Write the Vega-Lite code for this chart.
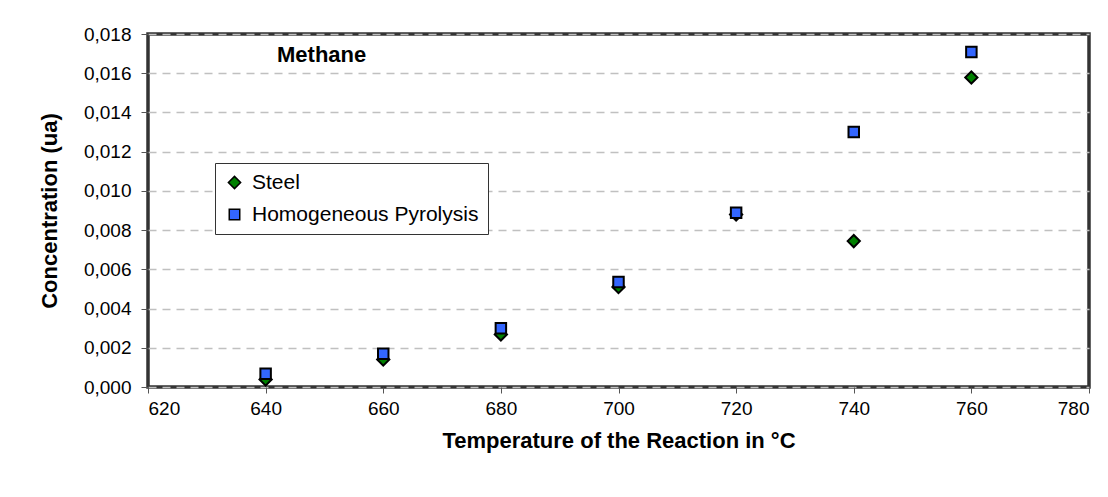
{
  "$schema": "https://vega.github.io/schema/vega-lite/v6.json",
  "width": 941,
  "height": 353,
  "autosize": "none",
  "padding": {"left": 148, "top": 34, "right": 19, "bottom": 110},
  "background": "white",
  "title": {"text": "Methane", "anchor": "start", "frame": "group", "dx": 129, "offset": -42, "fontSize": 22, "fontWeight": "bold", "font": "Liberation Sans", "color": "black"},
  "data": {"values": [
    {"temp": 640, "conc": 0.00038, "series": "Steel"},
    {"temp": 660, "conc": 0.0014, "series": "Steel"},
    {"temp": 680, "conc": 0.00268, "series": "Steel"},
    {"temp": 700, "conc": 0.0051, "series": "Steel"},
    {"temp": 720, "conc": 0.0088, "series": "Steel"},
    {"temp": 740, "conc": 0.00744, "series": "Steel"},
    {"temp": 760, "conc": 0.01578, "series": "Steel"},
    {"temp": 640, "conc": 0.00067, "series": "Homogeneous Pyrolysis"},
    {"temp": 660, "conc": 0.0017, "series": "Homogeneous Pyrolysis"},
    {"temp": 680, "conc": 0.0030, "series": "Homogeneous Pyrolysis"},
    {"temp": 700, "conc": 0.00535, "series": "Homogeneous Pyrolysis"},
    {"temp": 720, "conc": 0.00889, "series": "Homogeneous Pyrolysis"},
    {"temp": 740, "conc": 0.0130, "series": "Homogeneous Pyrolysis"},
    {"temp": 760, "conc": 0.01708, "series": "Homogeneous Pyrolysis"}
  ]},
  "mark": {"type": "point", "filled": true, "stroke": "black", "strokeWidth": 2, "opacity": 1},
  "encoding": {
    "x": {"field": "temp", "type": "quantitative", "scale": {"domain": [620, 780], "nice": false, "zero": false},
      "axis": {"title": "Temperature of the Reaction in °C", "values": [620, 640, 660, 680, 700, 720, 740, 760, 780], "grid": false, "domain": false, "tickColor": "#555", "tickSize": 6, "labelPadding": 6, "titlePadding": 12}},
    "y": {"field": "conc", "type": "quantitative", "scale": {"domain": [0, 0.018], "nice": false},
      "axis": {"title": "Concentration (ua)", "values": [0, 0.002, 0.004, 0.006, 0.008, 0.01, 0.012, 0.014, 0.016, 0.018], "labelExpr": "replace(format(datum.value, '.3f'), '.', ',')", "grid": true, "gridColor": "#c0c0c0", "gridDash": [8, 6], "gridWidth": 1.5, "domain": false, "tickColor": "#555", "tickSize": 7, "labelPadding": 10, "titlePadding": 22}},
    "color": {"field": "series", "type": "nominal", "scale": {"domain": ["Steel", "Homogeneous Pyrolysis"], "range": ["#008000", "#3366ff"]}, "legend": {"title": null, "orient": "none", "legendX": 67, "legendY": 129, "strokeColor": "#333", "fillColor": "white", "padding": 9, "labelFontSize": 21, "labelFont": "Liberation Sans", "labelColor": "black", "labelLimit": 0, "rowPadding": 10, "symbolSize": 100, "symbolStrokeColor": "black", "symbolStrokeWidth": 1.5, "labelOffset": 7}},
    "shape": {"field": "series", "type": "nominal", "scale": {"domain": ["Steel", "Homogeneous Pyrolysis"], "range": ["diamond", "square"]}},
    "size": {"field": "series", "type": "nominal", "scale": {"domain": ["Steel", "Homogeneous Pyrolysis"], "range": [150, 110]}, "legend": null}
  },
  "config": {
    "font": "Liberation Sans",
    "view": {"stroke": "#333", "strokeWidth": 3.5},
    "axis": {"labelFont": "Liberation Sans", "labelFontSize": 19, "labelColor": "black", "titleFont": "Liberation Sans", "titleFontSize": 22, "titleFontWeight": "bold", "titleColor": "black"}
  }
}
